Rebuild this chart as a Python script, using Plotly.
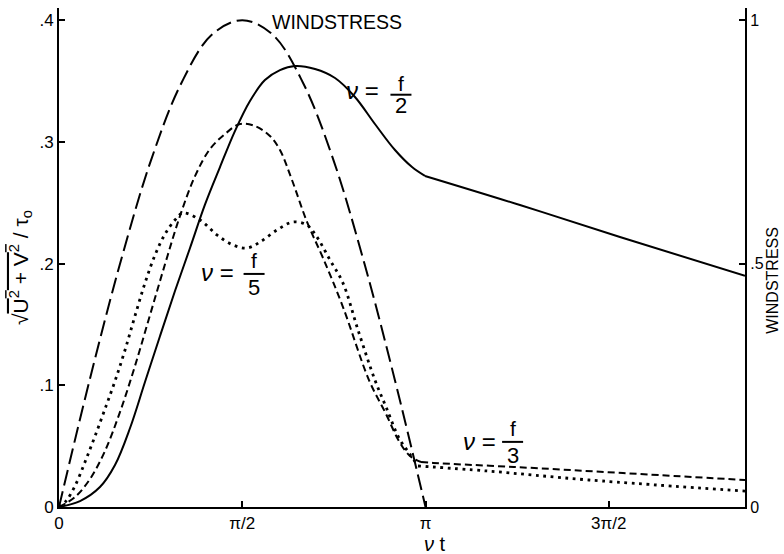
import math
import plotly.graph_objects as go

# Non-dimensional time (radians of nu*t) and response magnitude sqrt(U^2+V^2)/tau_o
# nu = f/2 (solid)
t_half = [0.0, 0.180, 0.351, 0.480, 0.609, 0.737, 0.866, 0.994, 1.123, 1.251,
          1.380, 1.508, 1.637, 1.765, 1.894, 2.023, 2.194, 2.366, 2.537, 2.708,
          2.880, 3.026, 3.137, 3.951, 4.808, 5.880]
r_half = [0.0, 0.0049, 0.0164, 0.0345, 0.0649, 0.1027, 0.1405, 0.1775, 0.2128, 0.2484,
          0.2793, 0.3089, 0.3336, 0.3508, 0.3590, 0.3623, 0.3599, 0.3525, 0.3369, 0.3147,
          0.2933, 0.2793, 0.2720, 0.2481, 0.2218, 0.1900]

# nu = f/3 (short dashes)
t_third = [0.0, 0.137, 0.266, 0.394, 0.523, 0.651, 0.780, 0.909, 1.037, 1.166,
           1.294, 1.423, 1.551, 1.680, 1.808, 1.894, 1.997, 2.126, 2.263, 2.434,
           2.657, 2.803, 2.914, 3.008, 3.103, 3.206, 3.900, 4.834, 5.880]
r_third = [0.0, 0.0082, 0.0230, 0.0460, 0.0781, 0.1158, 0.1577, 0.1996, 0.2391, 0.2719,
           0.2941, 0.3065, 0.3147, 0.3130, 0.3048, 0.2933, 0.2687, 0.2342, 0.2046, 0.1643,
           0.1043, 0.0764, 0.0542, 0.0419, 0.0370, 0.0362, 0.0329, 0.0279, 0.0222]

# nu = f/5 (dotted)
t_fifth = [0.0, 0.060, 0.137, 0.223, 0.309, 0.394, 0.480, 0.566, 0.651, 0.737,
           0.823, 0.909, 0.994, 1.063, 1.209, 1.354, 1.491, 1.611, 1.723, 1.868,
           2.006, 2.126, 2.211, 2.323, 2.434, 2.563, 2.708, 2.803, 2.914, 3.000,
           3.077, 3.668, 4.543, 5.880]
r_fifth = [0.0, 0.0049, 0.0173, 0.0370, 0.0583, 0.0805, 0.1035, 0.1290, 0.1569, 0.1840,
           0.2070, 0.2243, 0.2358, 0.2416, 0.2358, 0.2235, 0.2153, 0.2128, 0.2177, 0.2276,
           0.2342, 0.2317, 0.2218, 0.2029, 0.1840, 0.1454, 0.1043, 0.0822, 0.0567, 0.0444,
           0.0337, 0.0296, 0.0222, 0.0131]

# Wind stress (right axis, 0..1): a half-cycle pulse that ends at nu*t = pi
t_wind = [0.0, 0.2618, 0.5236, 0.7854, 1.0472, 1.3090, 1.5708, 1.8326, 2.0944,
          2.3562, 2.6180, 2.8798, 3.1416]
w_wind = [0.0, 0.26, 0.50, 0.71, 0.87, 0.97, 1.0, 0.97, 0.87, 0.71, 0.50, 0.26, 0.0]

x_tick_vals = [0.0, 1.5708, 3.1416, 4.7124]
x_tick_text = ["0", "π/2", "π", "3π/2"]
y_tick_vals = [0.0, 0.1, 0.2, 0.3, 0.4]
y_tick_text = ["0", ".1", ".2", ".3", ".4"]
y2_tick_vals = [0.0, 0.5, 1.0]
y2_tick_text = ["0", ".5", "1"]

FONT = "Liberation Sans, Arial, sans-serif"
INK = "black"

fig = go.Figure()

fig.add_trace(go.Scatter(x=t_wind, y=w_wind, yaxis="y2", mode="lines",
                         line=dict(color=INK, width=2, dash="16px,6px", shape="spline"),
                         hoverinfo="skip"))


def add_response(ts, rs, line):
    # the response has a corner where the wind switches off, so the curve is
    # smoothed separately before and after that point
    k = max(i for i, t in enumerate(ts) if t <= math.pi)
    for sl in (slice(0, k + 1), slice(k, len(ts))):
        fig.add_trace(go.Scatter(x=ts[sl], y=rs[sl], mode="lines",
                                 line=dict(color=INK, shape="spline", smoothing=1.0, **line),
                                 hoverinfo="skip"))


add_response(t_half, r_half, dict(width=2))
add_response(t_third, r_third, dict(width=2, dash="7px,4px"))
add_response(t_fifth, r_fifth, dict(width=2.8, dash="2.8px,4.6px"))

annotations = []


def txt(x, y, s, size, **kw):
    d = dict(x=x, y=y, xref="x", yref="y", text=s, showarrow=False,
             font=dict(family=FONT, size=size, color=INK))
    d.update(kw)
    annotations.append(d)


def frac_label(xn, yn, xf, yf_top, yf_bot, den):
    # "nu = f/den" written as a stacked fraction
    txt(xn, yn, "<i>ν</i> =", 24)
    txt(xf, yf_top, "f", 21)
    txt(xf, yf_bot, den, 22)
    fig.add_shape(type="line", xref="x", yref="y",
                  x0=xf - 0.09, x1=xf + 0.09, y0=(yf_top + yf_bot) / 2, y1=(yf_top + yf_bot) / 2,
                  line=dict(color=INK, width=2))


txt(2.382, 0.3985, "WINDSTRESS", 19.5)
frac_label(2.600, 0.3420, 2.931, 0.3480, 0.3295, "2")
frac_label(1.360, 0.1925, 1.672, 0.2025, 0.1805, "5")
frac_label(3.600, 0.0540, 3.888, 0.0645, 0.0425, "3")

# axis titles
annotations.append(dict(xref="paper", yref="paper", x=-0.056, y=0.48, text=(
    "√<span style='text-decoration:overline'>U<sup>2</sup> + V<sup>2</sup></span> / τ<sub>o</sub>"),
    showarrow=False, textangle=-90, xanchor="center", yanchor="middle",
    font=dict(family=FONT, size=21, color=INK)))
annotations.append(dict(xref="paper", yref="paper", x=1.0405, y=0.455, text="WINDSTRESS",
                        showarrow=False, textangle=-90, xanchor="center", yanchor="middle",
                        font=dict(family=FONT, size=16, color=INK)))
annotations.append(dict(xref="x", yref="paper", x=3.22, y=-0.0735, text="<i>ν</i> t",
                        showarrow=False, xanchor="center", yanchor="middle",
                        font=dict(family=FONT, size=20, color=INK)))

axis_style = dict(showgrid=False, zeroline=False, showline=True, linecolor=INK, linewidth=2,
                  ticks="inside", ticklen=6, tickwidth=1.5, tickcolor=INK,
                  tickfont=dict(family=FONT, size=17, color=INK))
right_axis_style = dict(axis_style, tickfont=dict(family=FONT, size=16, color=INK))

fig.update_layout(
    width=784, height=554,
    margin=dict(l=59, r=39, t=8, b=47),
    paper_bgcolor="white", plot_bgcolor="white",
    showlegend=False,
    font=dict(family=FONT, size=17, color=INK),
    annotations=annotations,
    xaxis=dict(range=[0, 5.88], tickvals=x_tick_vals, ticktext=x_tick_text, **axis_style),
    yaxis=dict(range=[0, 0.41], tickvals=y_tick_vals, ticktext=y_tick_text, **axis_style),
    yaxis2=dict(range=[0, 1.025], overlaying="y", side="right",
                tickvals=y2_tick_vals, ticktext=y2_tick_text, **right_axis_style),
)

fig.write_html("out.html")
